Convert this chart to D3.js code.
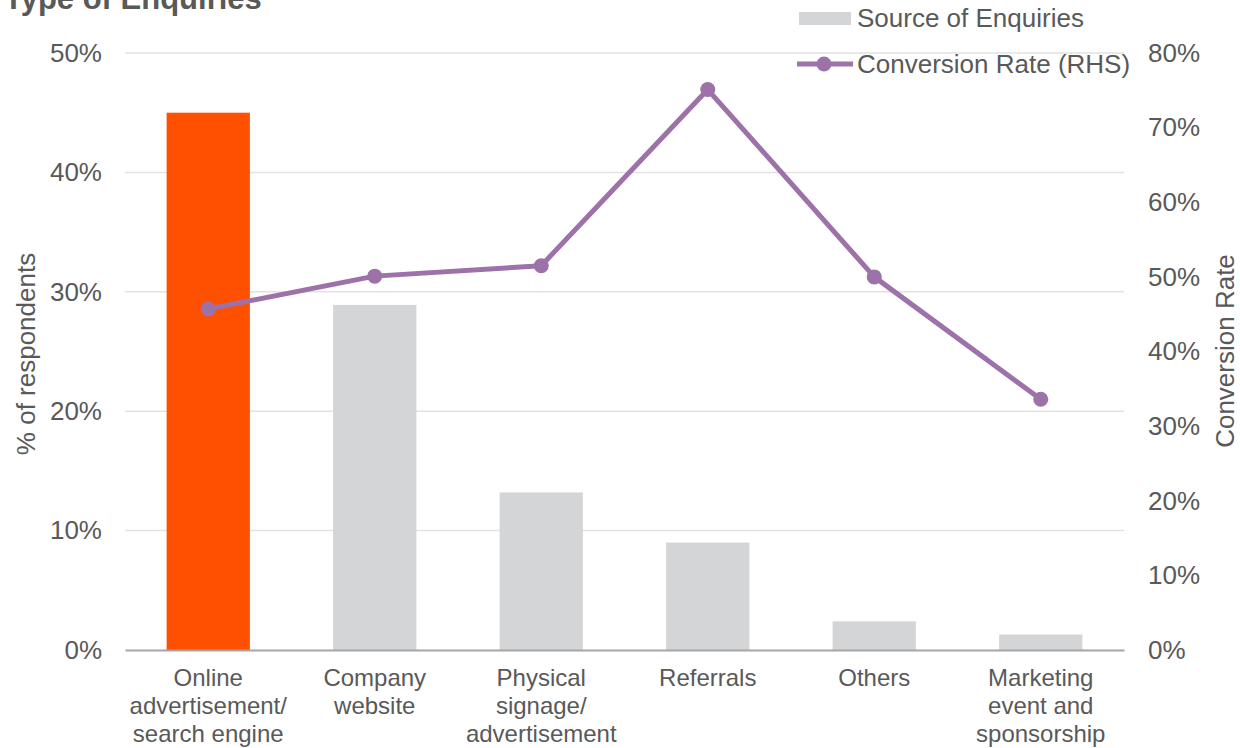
<!DOCTYPE html>
<html>
<head>
<meta charset="utf-8">
<script src="https://cdn.jsdelivr.net/npm/d3@7"></script>
<style>
  html, body { margin: 0; padding: 0; background: #ffffff; }
  svg { display: block; font-family: "Liberation Sans", Arial, Helvetica, sans-serif; }
</style>
</head>
<body>
<svg id="chart" width="1240" height="748"></svg>
<script>
// Enquiry sources (left axis) and conversion rate by source (right axis)
const categories = [
  "Online\nadvertisement/\nsearch engine",
  "Company\nwebsite",
  "Physical\nsignage/\nadvertisement",
  "Referrals",
  "Others",
  "Marketing\nevent and\nsponsorship"
];
const sourceShare = [0.450, 0.289, 0.132, 0.090, 0.024, 0.013];
const conversionRate = [0.457, 0.501, 0.515, 0.751, 0.500, 0.336];
const leftTicks = [0, 0.1, 0.2, 0.3, 0.4, 0.5];
const rightTicks = [0, 0.1, 0.2, 0.3, 0.4, 0.5, 0.6, 0.7, 0.8];
const highlightIndex = 0;

const TEXT = "#595959";
const GRID = "#e2e2e2";
const AXIS = "#a6a6a6";
const BAR_GREY = "#d4d5d7";
const BAR_HIGHLIGHT = "#ff5000";
const LINE = "#9c72a9";

const svg = d3.select("#chart");
const plot = { left: 125, right: 1124, top: 53, bottom: 650 };

const x = d3.scaleBand()
  .domain(categories)
  .range([plot.left, plot.right])
  .paddingInner(0.5)
  .paddingOuter(0.25);

const yL = d3.scaleLinear().domain([0, 0.5]).range([plot.bottom, plot.top]);
const yR = d3.scaleLinear().domain([0, 0.8]).range([plot.bottom, plot.top]);

// Title (sits at the very top edge of the canvas)
svg.append("text")
  .attr("x", 4).attr("y", 9)
  .attr("fill", TEXT)
  .attr("font-size", 31)
  .attr("font-weight", "bold")
  .text("Type of Enquiries");

// Horizontal gridlines (left scale)
svg.append("g")
  .selectAll("line")
  .data(leftTicks.filter(d => d > 0))
  .join("line")
  .attr("x1", plot.left).attr("x2", plot.right)
  .attr("y1", d => yL(d)).attr("y2", d => yL(d))
  .attr("stroke", GRID)
  .attr("stroke-width", 1.5);

// Bars
svg.append("g")
  .selectAll("rect")
  .data(sourceShare)
  .join("rect")
  .attr("x", (d, i) => x(categories[i]))
  .attr("width", x.bandwidth())
  .attr("y", d => yL(d))
  .attr("height", d => yL(0) - yL(d))
  .attr("fill", (d, i) => i === highlightIndex ? BAR_HIGHLIGHT : BAR_GREY);

// Left axis
const gL = svg.append("g")
  .attr("transform", `translate(${plot.left},0)`)
  .call(d3.axisLeft(yL).tickValues(leftTicks).tickFormat(d3.format(".0%")).tickSize(0).tickPadding(23));
gL.select(".domain").remove();
gL.selectAll("text").attr("fill", TEXT).attr("font-size", 26).attr("font-family", null);

// Right axis
const gR = svg.append("g")
  .attr("transform", `translate(${plot.right},0)`)
  .call(d3.axisRight(yR).tickValues(rightTicks).tickFormat(d3.format(".0%")).tickSize(0).tickPadding(24));
gR.select(".domain").remove();
gR.selectAll("text").attr("fill", TEXT).attr("font-size", 26).attr("font-family", null);

// Bottom axis with multi-line category labels
const gX = svg.append("g")
  .attr("transform", `translate(0,${plot.bottom})`)
  .call(d3.axisBottom(x).tickSize(0).tickPadding(0));
gX.select(".domain").attr("stroke", AXIS).attr("stroke-width", 2);
gX.selectAll(".tick text")
  .attr("fill", TEXT)
  .attr("font-size", 24)
  .attr("font-family", null)
  .attr("y", 36)
  .attr("dy", null)
  .each(function (d) {
    const t = d3.select(this);
    t.text(null);
    d.split("\n").forEach((line, i) => {
      t.append("tspan").attr("x", 0).attr("dy", i === 0 ? 0 : 28).text(line);
    });
  });

// Axis titles
svg.append("text")
  .attr("transform", "translate(35,354) rotate(-90)")
  .attr("text-anchor", "middle")
  .attr("fill", TEXT)
  .attr("font-size", 26)
  .text("% of respondents");

svg.append("text")
  .attr("transform", "translate(1234,351) rotate(-90)")
  .attr("text-anchor", "middle")
  .attr("fill", TEXT)
  .attr("font-size", 26)
  .text("Conversion Rate");

// Conversion rate line
const cx = (d, i) => x(categories[i]) + x.bandwidth() / 2;
svg.append("path")
  .datum(conversionRate)
  .attr("fill", "none")
  .attr("stroke", LINE)
  .attr("stroke-width", 5)
  .attr("stroke-linejoin", "round")
  .attr("d", d3.line().x(cx).y(d => yR(d)));

svg.append("g")
  .selectAll("circle")
  .data(conversionRate)
  .join("circle")
  .attr("cx", cx)
  .attr("cy", d => yR(d))
  .attr("r", 7.5)
  .attr("fill", LINE);

// Legend
const legend = svg.append("g");
legend.append("rect")
  .attr("x", 799).attr("y", 12).attr("width", 52).attr("height", 13)
  .attr("fill", BAR_GREY);
legend.append("text")
  .attr("x", 857).attr("y", 27)
  .attr("fill", TEXT).attr("font-size", 26)
  .text("Source of Enquiries");
legend.append("line")
  .attr("x1", 797).attr("x2", 853).attr("y1", 64).attr("y2", 64)
  .attr("stroke", LINE).attr("stroke-width", 5);
legend.append("circle")
  .attr("cx", 824).attr("cy", 64).attr("r", 7.5)
  .attr("fill", LINE);
legend.append("text")
  .attr("x", 857).attr("y", 73)
  .attr("fill", TEXT).attr("font-size", 26)
  .text("Conversion Rate (RHS)");
</script>
</body>
</html>
